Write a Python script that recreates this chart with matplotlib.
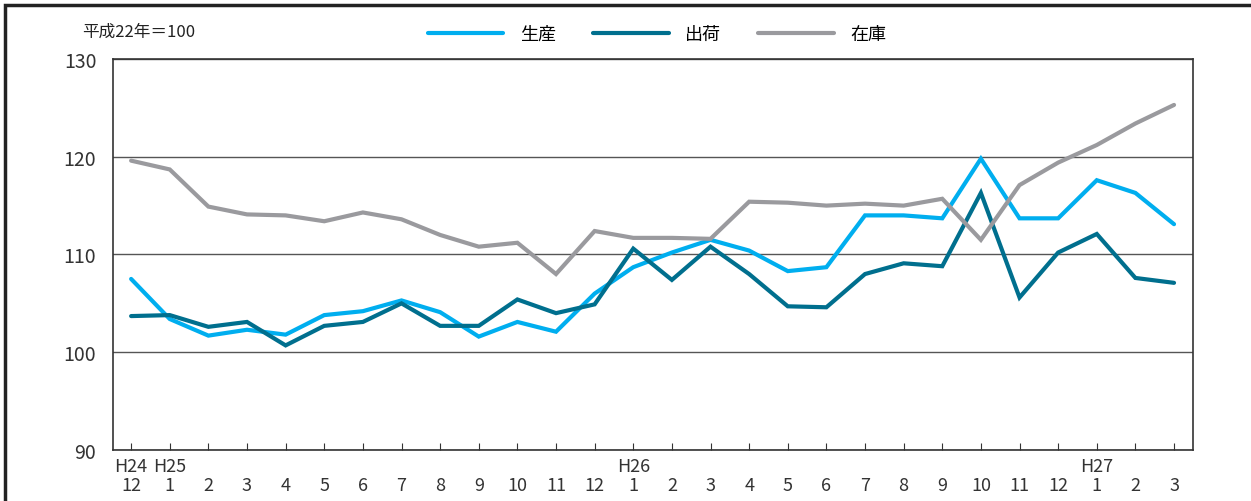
import matplotlib.pyplot as plt
from matplotlib.patches import Rectangle
from matplotlib.transforms import blended_transform_factory

plt.rcParams['font.family'] = ['Noto Sans CJK JP', 'DejaVu Sans']

# Data (平成22年=100)
months = ["12", "1", "2", "3", "4", "5", "6", "7", "8", "9", "10", "11",
          "12", "1", "2", "3", "4", "5", "6", "7", "8", "9", "10", "11",
          "12", "1", "2", "3"]
era_labels = {0: "H24", 1: "H25", 13: "H26", 25: "H27"}

production = [107.5, 103.4, 101.7, 102.3, 101.8, 103.8, 104.2, 105.3, 104.1,
              101.6, 103.1, 102.1, 106.0, 108.7, 110.2, 111.5, 110.4, 108.3,
              108.7, 114.0, 114.0, 113.7, 119.8, 113.7, 113.7, 117.6, 116.3, 113.1]
shipment = [103.7, 103.8, 102.6, 103.1, 100.7, 102.7, 103.1, 105.0, 102.7,
            102.7, 105.4, 104.0, 104.9, 110.6, 107.4, 110.8, 108.0, 104.7,
            104.6, 108.0, 109.1, 108.8, 116.3, 105.6, 110.2, 112.1, 107.6, 107.1]
inventory = [119.6, 118.7, 114.9, 114.1, 114.0, 113.4, 114.3, 113.6, 112.0,
             110.8, 111.2, 108.0, 112.4, 111.7, 111.7, 111.6, 115.4, 115.3,
             115.0, 115.2, 115.0, 115.7, 111.5, 117.1, 119.4, 121.2, 123.4, 125.3]

series = [("生産", production, "#00AEEF"),
          ("出荷", shipment, "#006F8E"),
          ("在庫", inventory, "#9A9A9E")]

fig = plt.figure(figsize=(12.51, 5.02), dpi=100)
ax = fig.add_axes([0.0903, 0.1016, 0.8633, 0.7789])

x = list(range(len(months)))
handles = []
for name, vals, color in series:
    h, = ax.plot(x, vals, color=color, lw=3, solid_capstyle="round",
                 solid_joinstyle="miter", label=name, zorder=3)
    handles.append(h)

ax.set_xlim(-0.47, 27.49)
ax.set_ylim(90, 130)
ax.set_yticks([90, 100, 110, 120, 130])
ax.tick_params(axis="y", length=0, pad=12, labelsize=14, labelcolor="#333333")
ax.set_xticks(x)
ax.set_xticklabels(months)
ax.tick_params(axis="x", direction="in", length=5, pad=19, labelsize=13,
               labelcolor="#333333", color="#333333")
ax.grid(axis="y", color="#555555", lw=1)
ax.set_axisbelow(True)
for sp in ax.spines.values():
    sp.set_color("#333333")
    sp.set_linewidth(1.2)

trans = blended_transform_factory(ax.transData, ax.transAxes)
for i, lab in era_labels.items():
    ax.text(i, -0.04, lab, transform=trans, ha="center", va="center",
            fontsize=13, color="#333333")

ax.text(-0.029, 1.07, "平成22年＝100", transform=ax.transAxes, ha="left",
        va="center", fontsize=12, color="#222222")

fig.legend(handles=handles, loc="center", bbox_to_anchor=(0.525, 0.93),
           ncol=3, frameon=False, fontsize=13, handlelength=4.2,
           columnspacing=2.05, handletextpad=0.9)

# outer frame of the figure
fig.add_artist(Rectangle((5 / 1251, -0.2), 1.2, 1.2 - 5.5 / 502,
                         transform=fig.transFigure, fill=False,
                         ec="#222222", lw=2.5))

fig.savefig("out.png", dpi=100)
